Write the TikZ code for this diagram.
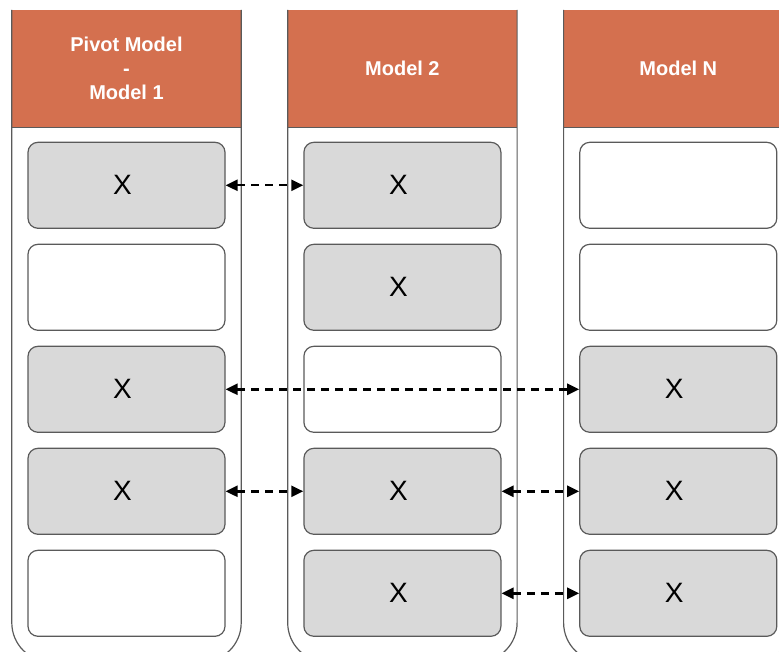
\documentclass[tikz,border=0pt]{standalone}
\usepackage{fontspec}
\setmainfont{Liberation Sans}
\usepackage{tikz}
\usetikzlibrary{arrows.meta,positioning}
\definecolor{model_orange}{HTML}{D4704F}
\definecolor{slot_gray}{HTML}{D9D9D9}
\definecolor{line_gray}{HTML}{5A5A5A}
\tikzset{
header/.style={rectangle, fill=model_orange, text=white, font=\fontsize{20}{24}\selectfont\bfseries, align=center, minimum width=229pt, minimum height=117pt, inner sep=0},
slot/.style={rectangle, rounded corners=10pt, draw=line_gray, line width=1.2pt, fill=white, minimum width=197pt, minimum height=86pt, inner sep=0, font=\fontsize{28}{30}\selectfont},
slot_x/.style={slot, fill=slot_gray},
model_column/.style={draw=line_gray, line width=1.2pt, rounded corners=39pt},
link/.style={{Triangle[length=12pt,width=11pt]}-{Triangle[length=12pt,width=11pt]}, dash pattern=on 8pt off 6pt, line width=2.4pt}
}

\begin{document}
\begin{tikzpicture}[x=1pt,y=-1pt]
    \useasboundingbox (0,0) rectangle (779,652);
    \clip (0,0) rectangle (779,652);
    \node[header] (head_1) at (126.5,68.5) {Pivot Model\\-\\Model 1};
    \node[header] (head_2) [right=46.5pt of head_1] {Model 2};
    \node[header] (head_3) [right=46.5pt of head_2] {Model N};
    \foreach \h in {head_1,head_2,head_3} {
        \draw[model_column] (\h.north west) -- ++(0,652) -| (\h.north east);
        \draw[line_gray, line width=1.2pt] (\h.south west) -- (\h.south east);
    }

    \node[slot_x] (m1_1) [below=14.5pt of head_1] {X\hspace*{8pt}};
    \node[slot] (m1_2) [below=14.8pt of m1_1] {};
    \node[slot_x] (m1_3) [below=14.8pt of m1_2] {X\hspace*{8pt}};
    \node[slot_x] (m1_4) [below=14.8pt of m1_3] {X\hspace*{8pt}};
    \node[slot] (m1_5) [below=14.8pt of m1_4] {};

    \node[slot_x] (m2_1) [below=14.5pt of head_2] {X\hspace*{8pt}};
    \node[slot_x] (m2_2) [below=14.8pt of m2_1] {X\hspace*{8pt}};
    \node[slot] (m2_3) [below=14.8pt of m2_2] {};
    \node[slot_x] (m2_4) [below=14.8pt of m2_3] {X\hspace*{8pt}};
    \node[slot_x] (m2_5) [below=14.8pt of m2_4] {X\hspace*{8pt}};

    \node[slot] (m3_1) [below=14.5pt of head_3] {};
    \node[slot] (m3_2) [below=14.8pt of m3_1] {};
    \node[slot_x] (m3_3) [below=14.8pt of m3_2] {X\hspace*{8pt}};
    \node[slot_x] (m3_4) [below=14.8pt of m3_3] {X\hspace*{8pt}};
    \node[slot_x] (m3_5) [below=14.8pt of m3_4] {X\hspace*{8pt}};

    \draw[link] (m1_1) -- (m2_1);
    \draw[link] (m1_3) -- (m3_3);
    \draw[link] (m1_4) -- (m2_4);
    \draw[link] (m2_4) -- (m3_4);
    \draw[link] (m2_5) -- (m3_5);
\end{tikzpicture}
\end{document}
